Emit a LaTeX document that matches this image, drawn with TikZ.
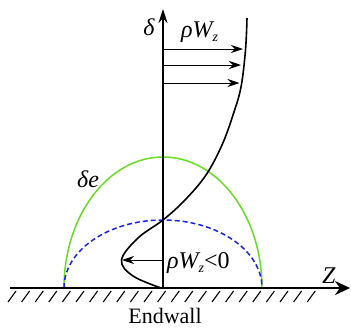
\documentclass[tikz,border=0pt]{standalone}
\usepackage{fontspec}
\setmainfont{Liberation Serif}
\usetikzlibrary{arrows.meta}
\definecolor{lgreen}{RGB}{102,221,34}
\definecolor{dblue}{RGB}{25,35,230}
\begin{document}
\begin{tikzpicture}[x=1pt,y=-1pt,
  lbl/.style={inner sep=0pt,font=\fontsize{24}{24}\selectfont\itshape},
  flowarrow/.style={line width=0.9pt,-{Stealth[length=12pt,width=8pt]}}]
\useasboundingbox (0,0) rectangle (351,327);
% coordinates
\coordinate (O) at (163,288);
\coordinate (gL) at (10,288);
\coordinate (gR) at (350,288);
\coordinate (top) at (163,9);
% hatches
\foreach \i in {0,...,22} \draw[line width=1.1pt] (8+\i*13.6,302) -- ++(8,-11);
% green and blue half ellipses
\draw[lgreen,line width=1.5pt] (64,288) arc[start angle=180,end angle=0,x radius=99,y radius=-131];
\draw[dblue,line width=1.5pt,dash pattern=on 5pt off 3pt] (64,288) arc[start angle=180,end angle=0,x radius=99,y radius=-68];
% ground line
\draw[line width=2.7pt,-{Stealth[length=15pt,width=14pt]}] (gL) -- (gR);
% axis
\draw[line width=1.4pt,-{Stealth[length=14pt,width=9pt]}] (O) -- (top);
% profile curve
\draw[line width=1.6pt] plot[smooth,tension=0.6] coordinates {(247,18) (245.5,50) (241,87) (233,115) (222,145) (206,175) (185,200) (163,220) (138,238) (121.5,260) (133,276) (161,288)};
% flow arrows
\coordinate (a1) at (163,49); \coordinate (b1) at (243,49);
\coordinate (a2) at (163,65); \coordinate (b2) at (241,65);
\coordinate (a3) at (163,83); \coordinate (b3) at (239.5,83);
\coordinate (a4) at (163,260); \coordinate (b4) at (122,260);
\draw[flowarrow] (a1) -- (b1);
\draw[flowarrow] (a2) -- (b2);
\draw[flowarrow] (a3) -- (b3);
\draw[flowarrow] (a4) -- (b4);
% labels
\node[lbl,anchor=base] (delta) at (149,35) {δ};
\node[lbl,anchor=base west] (rw1) at (181,37) {ρW\raisebox{-4pt}{\fontsize{14}{14}\selectfont z}};
\node[lbl,anchor=base west] (rw2) at (167,268) {ρW\raisebox{-4pt}{\fontsize{14}{14}\selectfont z}\upshape<0};
\node[lbl,anchor=base west] (de) at (77,187) {δe};
\node[lbl,anchor=base west] (Z) at (322,283) {Z};
\node[inner sep=0pt,anchor=base,font=\fontsize{22}{22}\selectfont] (ew) at (165,323) {Endwall};
\end{tikzpicture}
\end{document}
